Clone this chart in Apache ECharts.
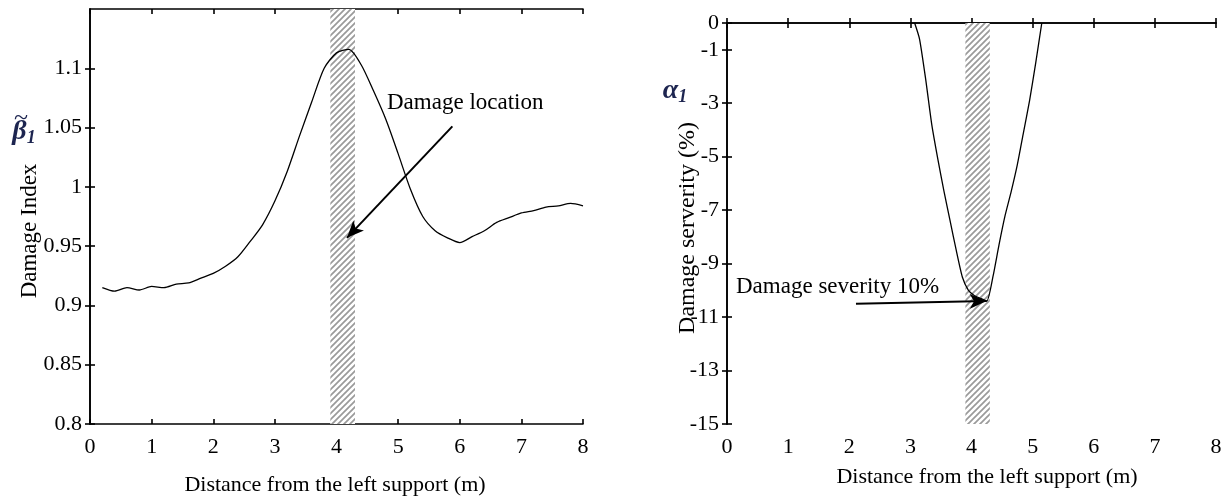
<!DOCTYPE html>
<html lang="en">
  <head>
    <meta charset="UTF-8" />
    <title>Damage index / severity</title>
    <script src="https://cdn.jsdelivr.net/npm/echarts@6.0.0/dist/echarts.min.js"></script>
    <style>
      html, body { margin: 0; padding: 0; background: #fff; }
      #chart { width: 1230px; height: 497px; }
    </style>
  </head>
  <body>
    <div id="chart"></div>
    <script>
      // left panel: damage index along the beam
      var xIndex = [0.2, 0.4, 0.6, 0.8, 1.0, 1.2, 1.4, 1.6, 1.8, 2.0, 2.2, 2.4, 2.6, 2.8, 3.0, 3.2, 3.4, 3.6, 3.8, 4.0,
        4.2, 4.4, 4.6, 4.8, 5.0, 5.2, 5.4, 5.6, 5.8, 6.0, 6.2, 6.4, 6.6, 6.8, 7.0, 7.2, 7.4, 7.6, 7.8, 8.0];
      var yIndex = [0.915, 0.912, 0.915, 0.913, 0.916, 0.915, 0.918, 0.919, 0.923, 0.927, 0.933, 0.941, 0.954, 0.968,
        0.988, 1.013, 1.043, 1.072, 1.1, 1.113, 1.116, 1.103, 1.081, 1.057, 1.028, 0.998, 0.975, 0.963, 0.957, 0.953,
        0.958, 0.963, 0.97, 0.974, 0.978, 0.98, 0.983, 0.984, 0.986, 0.984];
      // right panel: damage severity (%)
      var xSev = [3.07, 3.15, 3.25, 3.35, 3.45, 3.55, 3.65, 3.75, 3.85, 3.95, 4.05, 4.15, 4.25, 4.35, 4.45, 4.55,
        4.65, 4.75, 4.85, 4.95, 5.05, 5.15];
      var ySev = [0, -0.6, -2.1, -3.8, -5.1, -6.3, -7.4, -8.5, -9.5, -10.0, -10.2, -10.3, -10.4, -9.5, -8.3, -7.2,
        -6.3, -5.3, -4.1, -2.9, -1.5, 0];
      var damageZone = [3.9, 4.3];
      var xTicks = [0, 1, 2, 3, 4, 5, 6, 7, 8];
      var yTicksIndex = [0.8, 0.85, 0.9, 0.95, 1, 1.05, 1.1];
      var yTicksSev = [-15, -13, -11, -9, -7, -5, -3, -1, 0];

      var font = "Liberation Serif";
      var chart = echarts.init(document.getElementById("chart"));

      function pairs(xs, ys) {
        return xs.map(function (x, i) { return [x, ys[i]]; });
      }

      function hatch() {
        var s = 6;
        var c = document.createElement("canvas");
        c.width = s; c.height = s;
        var g = c.getContext("2d");
        g.fillStyle = "#ffffff";
        g.fillRect(0, 0, s, s);
        g.strokeStyle = "#9a9a9a";
        g.lineWidth = 1.7;
        g.beginPath();
        g.moveTo(-1, s + 1); g.lineTo(s + 1, -1);
        g.moveTo(-s / 2 - 1, s / 2 + 1); g.lineTo(s / 2 + 1, -s / 2 - 1);
        g.moveTo(s / 2 - 1, s * 1.5 + 1); g.lineTo(s * 1.5 + 1, s / 2 - 1);
        g.stroke();
        return c;
      }
      var hatchFill = { image: hatch(), repeat: "repeat" };

      var lineStyle = { color: "#000", width: 1.6 };
      var label = { color: "#000", fontFamily: font, fontSize: 22 };

      function xAxes(gi) {
        return [
          {
            gridIndex: gi, type: "value", min: 0, max: 8, interval: 1,
            axisLine: { lineStyle: lineStyle },
            axisTick: { inside: true, length: 5, lineStyle: lineStyle },
            axisLabel: Object.assign({ margin: 12, customValues: xTicks }, label),
            splitLine: { show: false },
          },
          {
            gridIndex: gi, type: "value", min: 0, max: 8, interval: 1, position: "top",
            axisLine: { lineStyle: lineStyle },
            axisTick: { inside: true, length: 5, lineStyle: lineStyle },
            axisLabel: { show: false },
            splitLine: { show: false },
          },
        ];
      }

      function yAxes(gi, min, max, ticks) {
        return [
          {
            gridIndex: gi, type: "value", min: min, max: max,
            axisLine: { show: true, lineStyle: lineStyle },
            axisTick: { show: true, inside: true, length: 5, lineStyle: lineStyle, customValues: ticks },
            axisLabel: Object.assign({ margin: 8, customValues: ticks }, label),
            splitLine: { show: false },
          },
          {
            gridIndex: gi, type: "value", min: min, max: max, position: "right",
            axisLine: { show: true, lineStyle: lineStyle },
            axisTick: { show: true, inside: true, length: 5, lineStyle: lineStyle, customValues: ticks },
            axisLabel: { show: false },
            splitLine: { show: false },
          },
        ];
      }

      function text(x, y, str, size, extra) {
        return Object.assign({
          type: "text", x: x, y: y,
          style: { text: str, fontFamily: font, fontSize: size, fill: "#000", textAlign: "center", textVerticalAlign: "middle" },
        }, extra || {});
      }

      function textLeft(x, y, str, size) {
        return {
          type: "text", x: x, y: y,
          style: { text: str, fontFamily: font, fontSize: size, fill: "#000", textAlign: "left", textVerticalAlign: "middle" },
        };
      }

      var symColor = "#1d2550";
      function symbol(x, y, main, tilde) {
        var parts = [{
          type: "text", x: x, y: y,
          style: {
            text: "{m|" + main + "}{s|1}",
            textAlign: "center", textVerticalAlign: "middle",
            rich: {
              m: { fontFamily: font, fontSize: 28, fontWeight: "bold", fontStyle: "italic", fill: symColor },
              s: { fontFamily: font, fontSize: 18, fontWeight: "bold", fontStyle: "italic", fill: symColor, padding: [12, 0, 0, 0] },
            },
          },
        }];
        if (tilde) {
          parts.push({
            type: "text", x: x - 3, y: y - 14,
            style: { text: "~", fontFamily: font, fontSize: 26, fill: symColor, textAlign: "center", textVerticalAlign: "middle" },
          });
        }
        return parts;
      }

      function arrow(from, to) {
        return {
          silent: true,
          symbol: ["none", "arrow"],
          symbolSize: [11, 17],
          label: { show: false },
          lineStyle: { color: "#000", width: 2, type: "solid" },
          data: [[{ coord: from }, { coord: to }]],
        };
      }

      var option = {
        animation: false,
        backgroundColor: "#fff",
        grid: [
          { left: 90, top: 9, right: 647, bottom: 73 },
          { left: 727, top: 23, right: 14, bottom: 73 },
        ],
        xAxis: xAxes(0).concat(xAxes(1)),
        yAxis: yAxes(0, 0.8, 1.15, yTicksIndex).concat(yAxes(1, -15, 0, yTicksSev)),
        series: [
          {
            type: "line", xAxisIndex: 0, yAxisIndex: 0,
            data: pairs(xIndex, yIndex),
            smooth: 0.25,
            showSymbol: false, lineStyle: { color: "#000", width: 1.3 },
            markArea: {
              silent: true,
              itemStyle: { color: hatchFill },
              data: [[{ xAxis: damageZone[0] }, { xAxis: damageZone[1] }]],
            },
            markLine: arrow([5.88, 1.051], [4.17, 0.957]),
          },
          {
            type: "line", xAxisIndex: 2, yAxisIndex: 2,
            data: pairs(xSev, ySev),
            smooth: 0.2,
            showSymbol: false, lineStyle: { color: "#000", width: 1.3 },
            markArea: {
              silent: true,
              itemStyle: { color: hatchFill },
              data: [[{ xAxis: damageZone[0] }, { xAxis: damageZone[1] }]],
            },
            markLine: arrow([2.11, -10.5], [4.25, -10.4]),
          },
        ],
        graphic: symbol(24, 132, "β", true).concat(symbol(675, 91, "α", false)).concat([
          text(30, 231, "Damage Index", 23, { rotation: Math.PI / 2 }),
          text(335, 485, "Distance from the left support (m)", 22),
          textLeft(387, 103, "Damage location", 23),
          text(688, 228, "Damage serverity (%)", 24, { rotation: Math.PI / 2 }),
          text(987, 477, "Distance from the left support (m)", 22),
          textLeft(736, 287, "Damage severity 10%", 23),
        ]),
      };

      chart.setOption(option);
    </script>
  </body>
</html>
